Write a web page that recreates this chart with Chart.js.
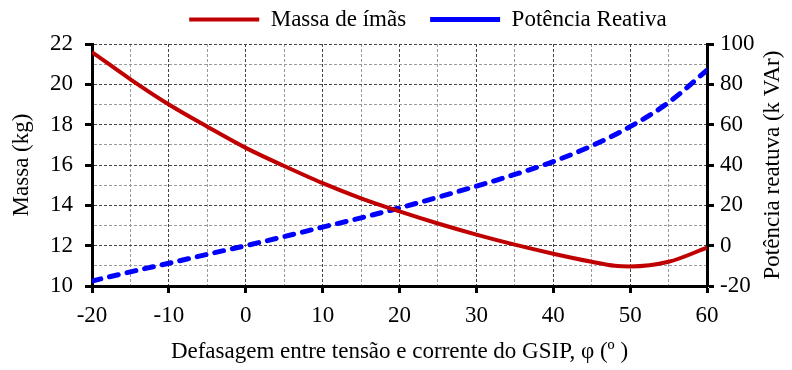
<!DOCTYPE html>
<html><head><meta charset="utf-8">
<script src="https://cdn.jsdelivr.net/npm/chart.js@4/dist/chart.umd.min.js"></script>
<style>html,body{margin:0;padding:0;background:#fff}</style>
</head><body>
<canvas id="c" width="792" height="370"></canvas>
<script>
const phi = [-20,-15,-10,-5,0,5,10,15,20,25,30,35,40,45,48,50,55,60];
const massa = [21.6,20.25,19.0,17.9,16.85,15.95,15.1,14.35,13.7,13.1,12.55,12.05,11.6,11.2,11.0,10.97,11.2,11.9];
const potPhi = [-20,-15,-10,-5,0,5,10,15,20,25,30,35,40,45,50,55,60];
const potencia = [-17.5,-13,-8.7,-4.3,0,4.5,9.2,13.8,18.7,24,29.5,35.3,41.7,49.5,59,71,87];
const seriesNames = ['Massa de ímãs','Potência Reativa'];
const xTitle = 'Defasagem entre tensão e corrente do GSIP, φ (º )';
const yTitle = 'Massa (kg)';
const y1Title = 'Potência reatuva (k VAr)';

const FONT = 'Liberation Serif, Times New Roman, serif';
const major = '#444', minor = '#9a9a9a';

const shiftLegend = {
  id:'shiftLegend',
  afterLayout(chart){ const l = chart.legend; if(l){ l.left += 32; l.right += 32; l.top -= 16; l.bottom -= 16; } }
};
const rightTitle = {
  id:'rightTitle',
  afterDraw(chart){
    const s = chart.scales.y1, a = chart.chartArea, ctx = chart.ctx;
    ctx.save();
    ctx.translate(s.right - 19, (a.top + a.bottom)/2);
    ctx.rotate(-Math.PI/2);
    ctx.font = '23px ' + FONT;
    ctx.fillStyle = '#000';
    ctx.textAlign = 'center';
    ctx.textBaseline = 'middle';
    ctx.fillText(y1Title, 0, 0);
    ctx.restore();
  }
};

new Chart(document.getElementById('c'), {
  type:'line',
  data:{
    datasets:[
      {label:seriesNames[0], data: phi.map((x,i)=>({x, y:massa[i]})), yAxisID:'y',
       borderColor:'#C00000', backgroundColor:'#C00000', borderWidth:4, pointRadius:0,
       cubicInterpolationMode:'monotone', fill:false},
      {label:seriesNames[1], data: potPhi.map((x,i)=>({x, y:potencia[i]})), yAxisID:'y1',
       borderColor:'#0000FF', backgroundColor:'#0000FF', borderWidth:5, pointRadius:0,
       borderDash:[9,9], borderCapStyle:'round', cubicInterpolationMode:'monotone', fill:false}
    ]
  },
  plugins:[shiftLegend, rightTitle],
  options:{
    responsive:false, animation:false,
    layout:{padding:{top:0,left:0,right:0,bottom:0}},
    plugins:{
      legend:{position:'top', maxHeight:44, labels:{usePointStyle:true, pointStyle:'line', pointStyleWidth:70,
        boxHeight:4, padding:24, color:'#000', font:{family:FONT, size:23}}},
      tooltip:{enabled:false}
    },
    scales:{
      x:{type:'linear', min:-20, max:60,
        afterFit(s){ s.height = 84; },
        ticks:{stepSize:5, autoSkip:false, maxRotation:0, color:'#000', padding:9,
          font:{family:FONT, size:23}, callback:v=> v%10===0 ? v : ''},
        grid:{color:c=> (c.tick && c.tick.value%10===0) ? major : minor, lineWidth:1,
          tickColor:c=> (c.tick && c.tick.value%10===0) ? '#000' : 'rgba(0,0,0,0)',
          tickWidth:3, tickLength:7, tickBorderDash:[]},
        border:{color:'#000', width:3, dash:[3,2]},
        title:{display:true, text:xTitle, color:'#000', font:{family:FONT, size:23}, padding:{top:8}}
      },
      y:{type:'linear', position:'left', min:10, max:22,
        afterFit(s){ s.width = 92; },
        ticks:{stepSize:1, autoSkip:false, color:'#000', padding:12,
          font:{family:FONT, size:23}, callback:v=> v%2===0 ? v : ''},
        grid:{color:c=> (c.tick && c.tick.value%2===0) ? major : minor, lineWidth:1,
          tickColor:c=> (c.tick && c.tick.value%2===0) ? '#000' : 'rgba(0,0,0,0)',
          tickWidth:3, tickLength:7, tickBorderDash:[]},
        border:{color:'#000', width:3, dash:[3,2]},
        title:{display:true, text:yTitle, color:'#000', font:{family:FONT, size:23}, padding:{top:8,bottom:0}}
      },
      y1:{type:'linear', position:'right', min:-20, max:100,
        afterFit(s){ s.width = 85; },
        ticks:{stepSize:20, color:'#000', padding:6, font:{family:FONT, size:23}},
        grid:{drawOnChartArea:false, tickColor:'#000', tickWidth:3, tickLength:7, tickBorderDash:[]},
        border:{color:'#000', width:3},
        title:{display:false}
      }
    }
  }
});
</script>
</body></html>
